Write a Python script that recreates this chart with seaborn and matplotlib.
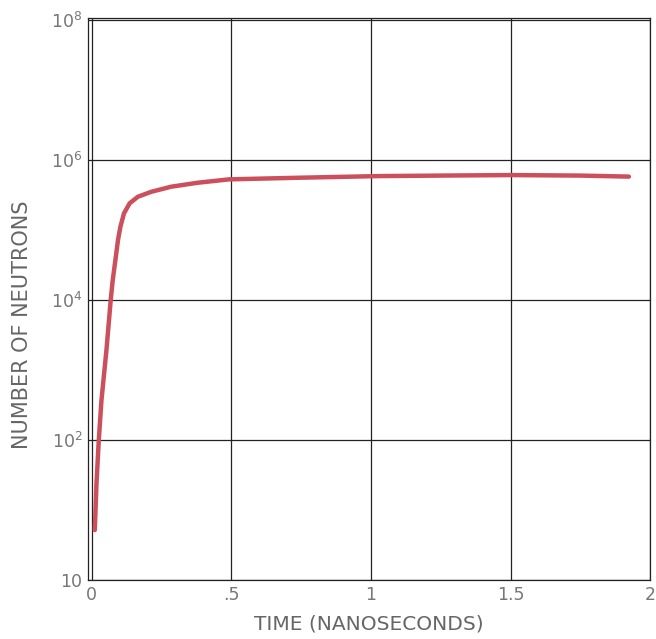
import numpy as np
import pandas as pd
import matplotlib.pyplot as plt
import seaborn as sns

# curve (time in ns, neutron count)
time_ns = [0.0107, 0.0168, 0.025, 0.0346, 0.0524, 0.0677, 0.0749, 0.0845,
           0.0938, 0.1023, 0.1152, 0.1355, 0.165, 0.2128, 0.284, 0.379,
           0.492, 0.75, 1.027, 1.25, 1.50, 1.75, 1.924]
neutrons = [5.2, 24.3, 100, 373, 1930, 1.0e4, 1.93e4, 3.73e4,
            7.2e4, 1.11e5, 1.73e5, 2.41e5, 2.99e5, 3.52e5, 4.16e5, 4.74e5,
            5.3e5, 5.6e5, 5.9e5, 6.0e5, 6.1e5, 6.0e5, 5.8e5]

x_ticks = [0, 0.5, 1, 1.5, 2]
x_labels = ["0", ".5", "1", "1.5", "2"]
y_ticks = [1, 1e2, 1e4, 1e6, 1e8]
y_labels = ["10", "10$^2$", "10$^4$", "10$^6$", "10$^8$"]

df = pd.DataFrame({"time": time_ns, "n": neutrons})

sns.set_theme(style="white")
plt.rcParams['font.family'] = ['DejaVu Sans']

fig = plt.figure(figsize=(6.56, 6.39), dpi=100)
ax = fig.add_axes([0.134, 0.092, 0.857, 0.880])

sns.lineplot(data=df, x="time", y="n", ax=ax, color="#cc4f5c", linewidth=3.2)
ax.set_yscale("log")
ax.set_xlim(-0.014, 2.0)
ax.set_ylim(1, 10**8.03)

ax.set_xticks(x_ticks)
ax.set_xticklabels(x_labels)
ax.set_yticks(y_ticks)
ax.set_yticklabels(y_labels)
ax.minorticks_off()
ax.tick_params(axis="both", length=0, labelsize=12.5, labelcolor="#777777", pad=4)

ax.grid(True, color="#222222", linewidth=0.9)
ax.set_axisbelow(True)
for s in ax.spines.values():
    s.set_color("#222222")
    s.set_linewidth(0.9)

ax.set_xlabel("TIME (NANOSECONDS)", fontsize=14.5, color="#666666", labelpad=8)
ax.set_ylabel("NUMBER OF NEUTRONS", fontsize=15, color="#666666")
ax.yaxis.set_label_coords(-0.10, 0.454)

plt.savefig("out.png", dpi=100)
